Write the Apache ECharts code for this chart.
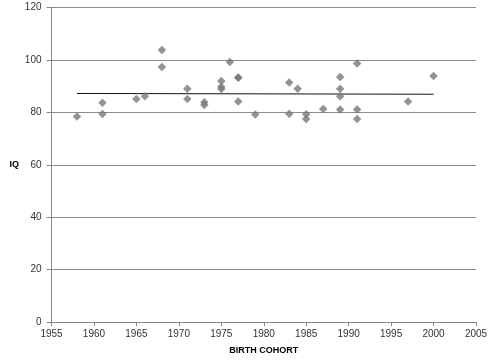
<!DOCTYPE html>
<html>
<head>
<meta charset="utf-8">
<script src="https://cdn.jsdelivr.net/npm/echarts@6/dist/echarts.min.js"></script>
<style>html,body{margin:0;padding:0;background:#fff}#c{width:495px;height:363px}</style>
</head>
<body>
<div id="c"></div>
<script>
const years = [1958,1961,1961,1965,1966,1968,1968,1971,1971,1973,1973,1975,1975,1975,1976,1977,1977,1977,1979,1983,1983,1984,1985,1985,1987,1989,1989,1989,1989,1991,1991,1991,1997,2000];
const iq    = [78.4,83.7,79.4,85.1,86.1,103.8,97.3,89.0,85.1,83.8,82.8,92.0,89.8,88.9,99.2,93.3,93.2,84.1,79.2,91.4,79.5,89.0,79.3,77.5,81.3,93.5,89.0,86.1,81.1,98.6,81.1,77.5,84.1,93.9];
const trendYears = [1958, 2000];
const trendIQ = [87.2, 86.9];
const xTicks = [1955,1960,1965,1970,1975,1980,1985,1990,1995,2000,2005];
const yTicks = [0,20,40,60,80,100,120];

const font = '"Liberation Sans", Arial, sans-serif';
const chart = echarts.init(document.getElementById('c'));
chart.setOption({
  animation: false,
  backgroundColor: '#fff',
  grid: {left: 51.5, right: 19, top: 7.5, bottom: 41, containLabel: false},
  xAxis: {
    type: 'value', min: xTicks[0], max: xTicks[xTicks.length-1], interval: 5,
    name: 'BIRTH COHORT', nameLocation: 'middle', nameGap: 24,
    nameTextStyle: {fontFamily: font, fontSize: 9, fontWeight: 'bold', color: '#000'},
    axisLine: {lineStyle: {color: '#888', width: 1}},
    axisTick: {show: true, length: 4, inside: false, lineStyle: {color: '#888'}},
    axisLabel: {fontFamily: font, fontSize: 10, color: '#333', margin: 7, formatter: v => String(v)},
    splitLine: {show: false}
  },
  yAxis: {
    type: 'value', min: yTicks[0], max: yTicks[yTicks.length-1], interval: 20,
    name: 'IQ', nameLocation: 'middle', nameGap: 30, nameRotate: 0,
    nameTextStyle: {fontFamily: font, fontSize: 9, fontWeight: 'bold', color: '#000', align: 'right'},
    axisLine: {show: true, lineStyle: {color: '#888', width: 1}},
    axisTick: {show: true, length: 5, inside: false, lineStyle: {color: '#888'}},
    axisLabel: {fontFamily: font, fontSize: 10, color: '#333', margin: 10},
    splitLine: {show: true, lineStyle: {color: '#8c8c8c', width: 1}}
  },
  series: [
    {
      type: 'line', data: trendYears.map((y,i)=>[y, trendIQ[i]]),
      symbol: 'none', lineStyle: {color: '#111', width: 1}, z: 3
    },
    {
      type: 'scatter', data: years.map((y,i)=>[y, iq[i]]),
      symbol: 'diamond', symbolSize: 8.5,
      itemStyle: {color: '#787878'}, z: 4
    }
  ]
});
</script>
</body>
</html>
